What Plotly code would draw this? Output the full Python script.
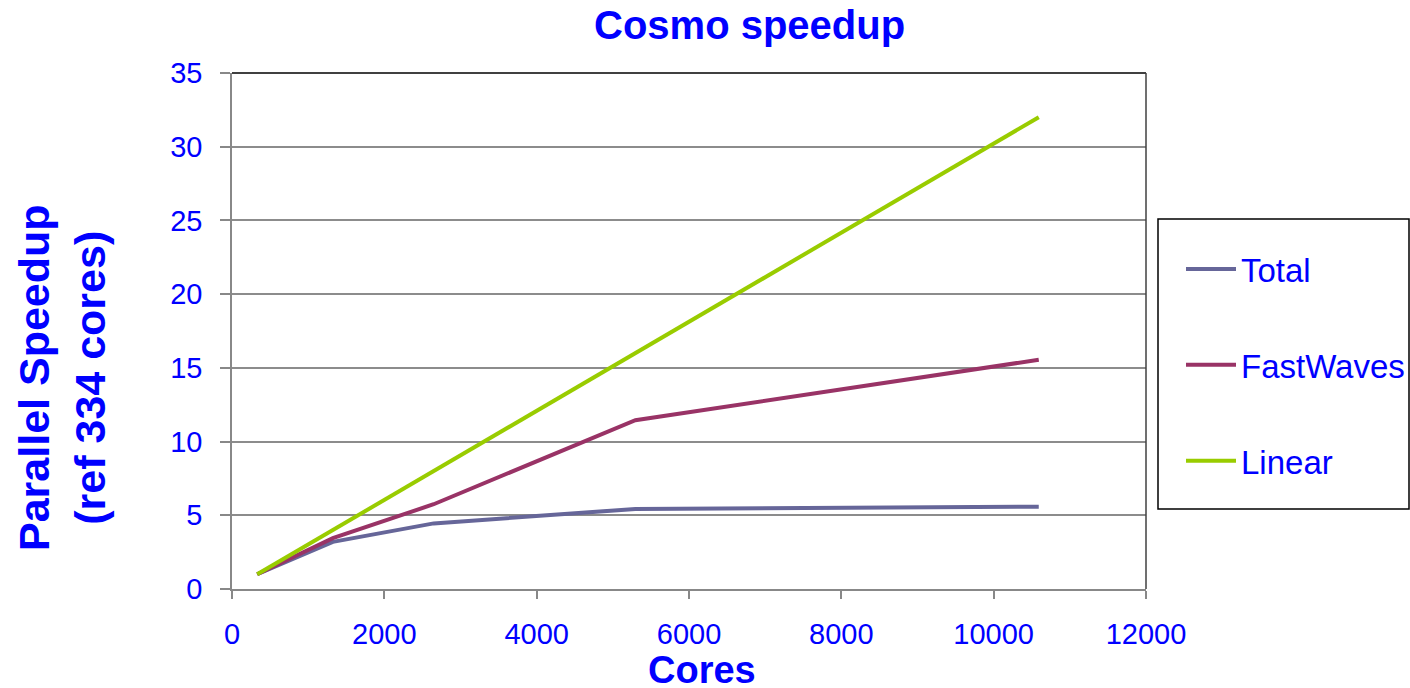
import plotly.graph_objects as go

# Data
cores = [331, 1324, 2648, 5296, 10592]
total = [1.0, 3.2, 4.45, 5.43, 5.58]
fastwaves = [1.0, 3.45, 5.75, 11.45, 15.55]
linear = [1, 4, 8, 16, 32]
series_names = ["Total", "FastWaves", "Linear"]
series_colors = ["#666699", "#993366", "#99CC00"]
x_ticks = [0, 2000, 4000, 6000, 8000, 10000, 12000]
y_ticks = [0, 5, 10, 15, 20, 25, 30, 35]

FONT = "Liberation Sans, Arial, sans-serif"
BLUE = "#0000FF"

fig = go.Figure()
for name, ys, col in zip(series_names, [total, fastwaves, linear], series_colors):
    fig.add_trace(go.Scatter(x=cores, y=ys, mode="lines", name=name, legendgroup=name,
                             line=dict(color=col, width=4)))

fig.update_layout(
    width=1410, height=688, autosize=False,
    margin=dict(l=232, r=264, t=73, b=99, autoexpand=False),
    paper_bgcolor="white", plot_bgcolor="white",
    font=dict(family=FONT, color=BLUE),
    showlegend=True,
    legend=dict(xref="container", yref="container", x=1181 / 1410, xanchor="left",
                y=1 - 241 / 688, yanchor="top",
                font=dict(size=33, color=BLUE, family=FONT),
                bgcolor="rgba(0,0,0,0)", borderwidth=0,
                traceorder="grouped", tracegroupgap=50, itemwidth=50),
    xaxis=dict(range=[0, 12000], tickvals=x_ticks, ticktext=[str(v) for v in x_ticks],
               showgrid=False, zeroline=False, showline=True, linecolor="#888888", linewidth=1.5,
               ticks="outside", ticklen=8, tickcolor="#888888", tickwidth=1.5,
               tickfont=dict(size=29, color=BLUE, family=FONT), ticklabelstandoff=10),
    yaxis=dict(range=[0, 35], tickvals=y_ticks, ticktext=[str(v) for v in y_ticks],
               showgrid=True, gridcolor="#8C8C8C", gridwidth=1.5, zeroline=False,
               showline=True, linecolor="#888888", linewidth=1.5,
               ticks="outside", ticklen=10, tickcolor="#888888", tickwidth=1.5,
               tickfont=dict(size=29, color=BLUE, family=FONT), ticklabelstandoff=12),
    annotations=[
        dict(text="<b>Cosmo speedup</b>", xref="paper", yref="paper", x=(749 - 232) / 914,
             y=(589 - 25) / 516, xanchor="center", yanchor="middle", showarrow=False,
             font=dict(size=40, color=BLUE, family=FONT)),
        dict(text="<b>Cores</b>", xref="paper", yref="paper", x=(702 - 232) / 914,
             y=(589 - 670) / 516, xanchor="center", yanchor="middle", showarrow=False,
             font=dict(size=38, color=BLUE, family=FONT)),
        dict(text="<b>Parallel Speedup<br>(ref 334 cores)</b>", xref="paper", yref="paper",
             x=(62 - 232) / 914, y=(589 - 378) / 516, xanchor="center", yanchor="middle",
             textangle=-90, showarrow=False,
             font=dict(size=43, color=BLUE, family=FONT)),
    ],
    shapes=[
        dict(type="line", xref="paper", yref="paper", x0=0, x1=1, y0=1, y1=1,
             line=dict(color="black", width=1.5)),
        dict(type="line", xref="paper", yref="paper", x0=1, x1=1, y0=0, y1=1,
             line=dict(color="#404040", width=1.5)),
        dict(type="rect", xref="paper", yref="paper", x0=(1158 - 232) / 914, x1=(1409 - 232) / 914,
             y0=(589 - 509) / 516, y1=(589 - 219) / 516, line=dict(color="black", width=1.5)),
    ],
)

fig.write_html("out.html",
               config={"responsive": False, "displayModeBar": False},
               post_script="document.body.style.margin='0';document.body.style.overflow='hidden';")
